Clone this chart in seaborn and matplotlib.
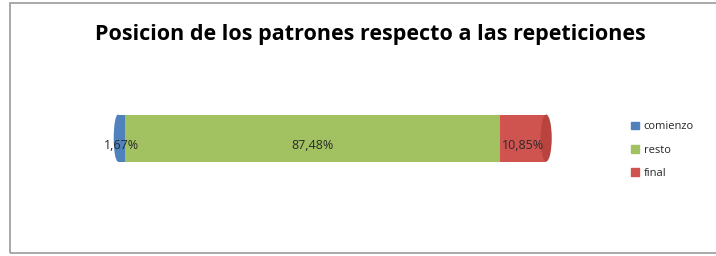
import matplotlib
matplotlib.use("Agg")
import matplotlib.pyplot as plt
import matplotlib.patches as mpatches
import seaborn as sns
import pandas as pd

# data
series = ["comienzo", "resto", "final"]
values = [1.67, 87.48, 10.85]
labels = ["1,67%", "87,48%", "10,85%"]
colors = ["#4F81BD", "#A2C262", "#CF5450"]

sns.set_style("white")
plt.rcParams["font.family"] = ["Open Sans", "DejaVu Sans"]

df = pd.DataFrame({"serie": series, "valor": values})
df["fin"] = df["valor"].cumsum()
df["inicio"] = df["fin"] - df["valor"]
df["cat"] = ""

fig = plt.figure(figsize=(7.16, 2.56), dpi=100)
ax = fig.add_axes([0.1648, 0.346, 0.598, 0.2295])

# stacked bar: draw cumulative totals from largest to smallest
for i in reversed(range(len(df))):
    sns.barplot(data=df.iloc[[i]], x="fin", y="cat", orient="h",
                color=colors[i], width=0.8, ax=ax, saturation=1,
                edgecolor="none")

# cylinder caps (front face on the left, back face on the right)
ax.add_patch(mpatches.Ellipse((df["fin"].iloc[-1], 0), 2.6, 0.8,
                              facecolor="#B8433F", edgecolor="none",
                              zorder=3, clip_on=False))
ax.add_patch(mpatches.Ellipse((df["inicio"].iloc[0], 0), 2.0, 0.8,
                              facecolor=colors[0], edgecolor="none",
                              zorder=3, clip_on=False))

for i, row in df.iterrows():
    ax.text((row["inicio"] + row["fin"]) / 2, 0.12, labels[i],
            ha="center", va="center", fontsize=9, color="#2a2a2a", zorder=4)

ax.set_xlim(0, 100)
ax.set_ylim(0.5, -0.5)
ax.axis("off")

# legend
handles = [mpatches.Patch(color=c, label=s) for s, c in zip(series, colors)]
fig.legend(handles=handles, loc="upper left", bbox_to_anchor=(0.868, 0.565),
           frameon=False, fontsize=8, handlelength=0.7, handleheight=0.7,
           handletextpad=0.4, labelspacing=1.1)

fig.suptitle("Posicion de los patrones respecto a las repeticiones",
             x=0.517, y=0.905, fontsize=15.5, fontweight="bold", color="black")

# outer chart frame
fig.patches.append(mpatches.Rectangle((0.014, 0.01), 1.0, 0.978,
                                      transform=fig.transFigure, fill=False,
                                      edgecolor="#9a9a9a", lw=1.2))

fig.savefig("out.png", dpi=100)
